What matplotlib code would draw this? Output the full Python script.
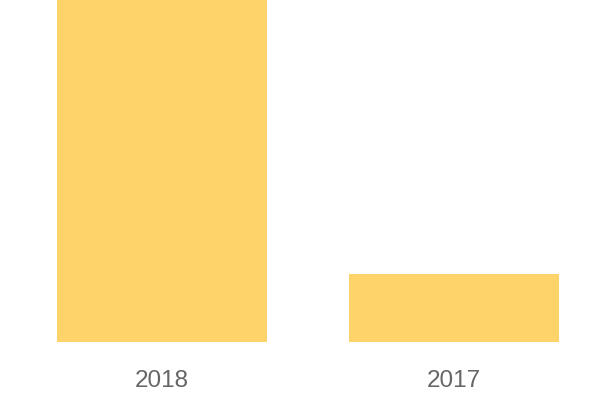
import matplotlib
matplotlib.use("Agg")
import matplotlib.pyplot as plt

# Daten
jahre = ["2018", "2017"]
werte = [100, 20]

fig = plt.figure(figsize=(6, 4), dpi=100)
ax = fig.add_axes([16 / 600, 58 / 400, 584 / 600, 342 / 400])

ax.bar(range(len(jahre)), werte, width=0.72, color="#FED46A")

ax.set_xlim(-0.5, 1.5)
ax.set_ylim(0, max(werte))
ax.set_xticks(range(len(jahre)))
ax.set_xticklabels(jahre, fontsize=17.5, color="#666666", family="Liberation Sans")
ax.tick_params(axis="x", length=0, pad=20)
ax.set_yticks([])
for s in ax.spines.values():
    s.set_visible(False)

fig.savefig("out.png", dpi=100)
